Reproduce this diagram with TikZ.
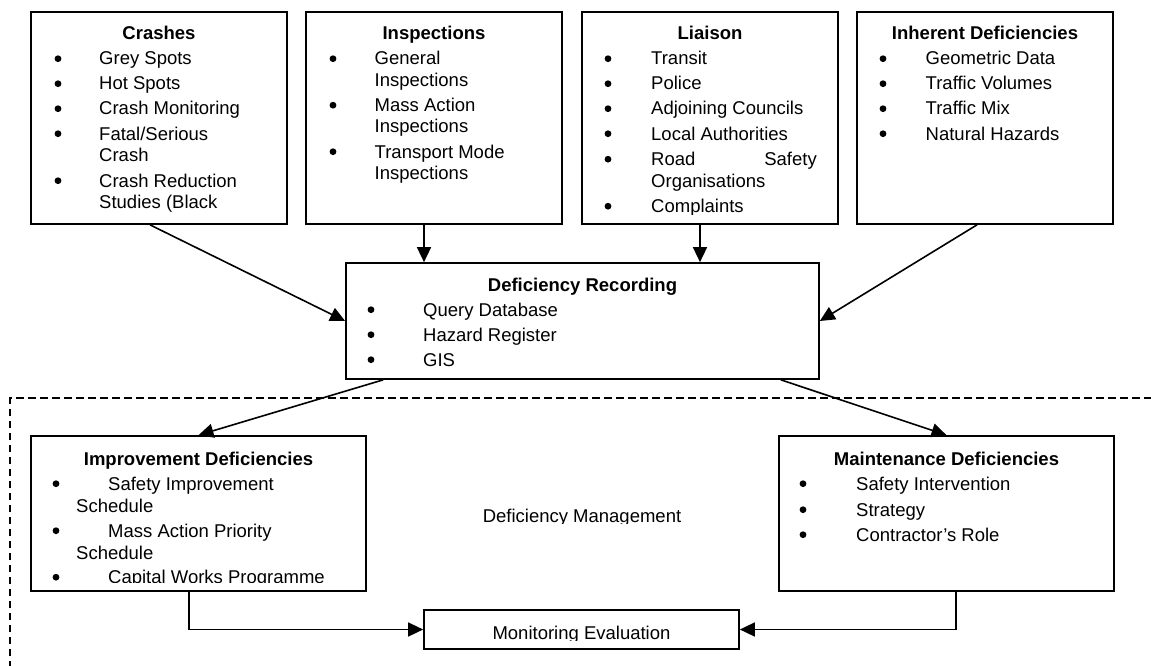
\documentclass[tikz,border=0pt]{standalone}
\usepackage{fontspec}
\setmainfont{Liberation Sans}
\usetikzlibrary{arrows.meta,calc}
\newcommand\fs{\fontsize{18.5pt}{22pt}\selectfont}
\begin{document}
\begin{tikzpicture}[x=1pt,y=-1pt,
  box/.style={draw, line width=1.7pt, rectangle, inner sep=0pt},
  txt/.style={anchor=base west, inner sep=0pt, font=\fs},
  txtr/.style={anchor=base east, inner sep=0pt, font=\fs},
  ctr/.style={anchor=base, inner sep=0pt, font=\fs},
  ttl/.style={anchor=base, inner sep=0pt, font=\fs\bfseries},
  bul/.style={circle, fill=black, inner sep=0pt, minimum size=6.8pt, yshift=6.3pt},
  arr/.style={-{Triangle[length=15pt,width=14pt]}, line width=1.6pt},
  dashbox/.style={line width=1.3pt, dash pattern=on 7.5pt off 4.5pt}
]
\useasboundingbox (0,0) rectangle (1151,666);
\fill[white] (0,0) rectangle (1151,666);

% dashed management region (cropped by the picture edge)
\begin{scope}
\clip (0,0) rectangle (1151,666);
\coordinate (dmA) at (10,680);
\coordinate (dmB) at (10,398);
\coordinate (dmC) at (1170,398);
\draw[dashbox] (dmA) -- (dmB) -- (dmC);
\end{scope}

% boxes
\node[box, minimum width=256pt, minimum height=212pt] (crashes) at (159,118) {};
\node[box, minimum width=256pt, minimum height=212pt] (insp) at (434,118) {};
\node[box, minimum width=256pt, minimum height=212pt] (liaison) at (710,118) {};
\node[box, minimum width=256pt, minimum height=212pt] (inherent) at (985,118) {};
\node[box, minimum width=473pt, minimum height=116pt] (dr) at (582.5,321) {};
\node[box, minimum width=335pt, minimum height=155pt] (impr) at (198.5,513.5) {};
\node[box, minimum width=335pt, minimum height=155pt] (maint) at (946.5,513.5) {};
\node[box, minimum width=315pt, minimum height=39pt] (mon) at (581.5,629.5) {};

% Crashes
\begin{scope}
\clip (crashes.north west) rectangle ([yshift=10pt]crashes.south east);
\node[ttl] (t1) at (159,40) {Crashes};
\node[bul] (c1b) at (58,65) {}; \node[txt] (c1) at (99,65) {Grey Spots};
\node[bul] (c2b) at (58,90) {}; \node[txt] (c2) at (99,90) {Hot Spots};
\node[bul] (c3b) at (58,115) {}; \node[txt] (c3) at (99,115) {Crash Monitoring};
\node[bul] (c4b) at (58,140) {}; \node[txt] (c4) at (99,140) {Fatal/Serious};
\node[txt] (c4x) at (99,161.5) {Crash};
\node[bul] (c5b) at (58,187) {}; \node[txt] (c5) at (99,187) {Crash Reduction};
\node[txt] (c5x) at (99,208.5) {Studies (Black};
\end{scope}

% Inspections
\begin{scope}
\clip (insp.north west) rectangle ([yshift=10pt]insp.south east);
\node[ttl] (t2) at (434,40) {Inspections};
\node[bul] (i1b) at (333,65) {}; \node[txt] (i1) at (374.5,65) {General};
\node[txt] (i1x) at (374.5,86.5) {Inspections};
\node[bul] (i2b) at (333,111.5) {}; \node[txt] (i2) at (374.5,111.5) {Mass Action};
\node[txt] (i2x) at (374.5,133) {Inspections};
\node[bul] (i3b) at (333,158) {}; \node[txt] (i3) at (374.5,158) {Transport Mode};
\node[txt] (i3x) at (374.5,179.5) {Inspections};
\end{scope}

% Liaison
\begin{scope}
\clip (liaison.north west) rectangle ([yshift=10pt]liaison.south east);
\node[ttl] (t3) at (710,40) {Liaison};
\node[bul] (l1b) at (608,65) {}; \node[txt] (l1) at (651,65) {Transit};
\node[bul] (l2b) at (608,90) {}; \node[txt] (l2) at (651,90) {Police};
\node[bul] (l3b) at (608,115) {}; \node[txt] (l3) at (651,115) {Adjoining Councils};
\node[bul] (l4b) at (608,140) {}; \node[txt] (l4) at (651,140) {Local Authorities};
\node[bul] (l5b) at (608,165.5) {}; \node[txt] (l5) at (651,165.5) {Road};
\node[txtr] (l5r) at (817,165.5) {Safety};
\node[txt] (l5x) at (651,187) {Organisations};
\node[bul] (l6b) at (608,212.5) {}; \node[txt] (l6) at (651,212.5) {Complaints};
\end{scope}

% Inherent Deficiencies
\begin{scope}
\clip (inherent.north west) rectangle ([yshift=10pt]inherent.south east);
\node[ttl] (t4) at (985,40) {Inherent Deficiencies};
\node[bul] (h1b) at (883,65) {}; \node[txt] (h1) at (925.5,65) {Geometric Data};
\node[bul] (h2b) at (883,90) {}; \node[txt] (h2) at (925.5,90) {Traffic Volumes};
\node[bul] (h3b) at (883,115) {}; \node[txt] (h3) at (925.5,115) {Traffic Mix};
\node[bul] (h4b) at (883,140) {}; \node[txt] (h4) at (925.5,140) {Natural Hazards};
\end{scope}

% Deficiency Recording
\node[ttl] (t5) at (582.5,291) {Deficiency Recording};
\node[bul] (d1b) at (371,316) {}; \node[txt] (d1) at (423,316) {Query Database};
\node[bul] (d2b) at (371,341) {}; \node[txt] (d2) at (423,341) {Hazard Register};
\node[bul] (d3b) at (371,366) {}; \node[txt] (d3) at (423,366) {GIS};

% Improvement Deficiencies
\begin{scope}
\clip (impr.north west) rectangle ([yshift=9pt]impr.south east);
\node[ttl] (t6) at (198.5,465) {Improvement Deficiencies};
\node[bul] (m1b) at (56,490) {}; \node[txt] (m1) at (108,490) {Safety Improvement};
\node[txt] (m1x) at (76,512) {Schedule};
\node[bul] (m2b) at (56,537) {}; \node[txt] (m2) at (108,537) {Mass Action Priority};
\node[txt] (m2x) at (76,559) {Schedule};
\node[bul] (m3b) at (56,583.5) {}; \node[txt] (m3) at (108,583.5) {Capital Works Programme};
\end{scope}

% Maintenance Deficiencies
\node[ttl] (t7) at (946.5,465) {Maintenance Deficiencies};
\node[bul] (n1b) at (803,490) {}; \node[txt] (n1) at (856,490) {Safety Intervention};
\node[bul] (n2b) at (803,516) {}; \node[txt] (n2) at (856,516) {Strategy};
\node[bul] (n3b) at (803,541) {}; \node[txt] (n3) at (856,541) {Contractor’s Role};

% Deficiency Management label
\begin{scope}
\clip (0,0) rectangle (1151,523.5);
\node[ctr] (dmlabel) at (582,522) {Deficiency Management};
\end{scope}

% Monitoring Evaluation
\begin{scope}
\clip (mon.north west) rectangle ([yshift=9pt]mon.south east);
\node[ctr] (t8) at (581.5,639) {Monitoring Evaluation};
\end{scope}

% connectors
\draw[arr] ([xshift=-9pt]crashes.south) -- (dr.west);
\draw[arr] ([xshift=-10pt]insp.south) -- ([xshift=-10pt]insp.south |- dr.north);
\draw[arr] ([xshift=-10pt]liaison.south) -- ([xshift=-10pt]liaison.south |- dr.north);
\draw[arr] ([xshift=-8pt]inherent.south) -- (dr.east);
\draw[arr] ([xshift=38pt]dr.south west) -- (impr.north);
\draw[arr] ([xshift=-39pt]dr.south east) -- (maint.north);
\draw[arr] ([xshift=-9.5pt]impr.south) |- (mon.west);
\draw[arr] ([xshift=9.5pt]maint.south) |- (mon.east);
\end{tikzpicture}
\end{document}
